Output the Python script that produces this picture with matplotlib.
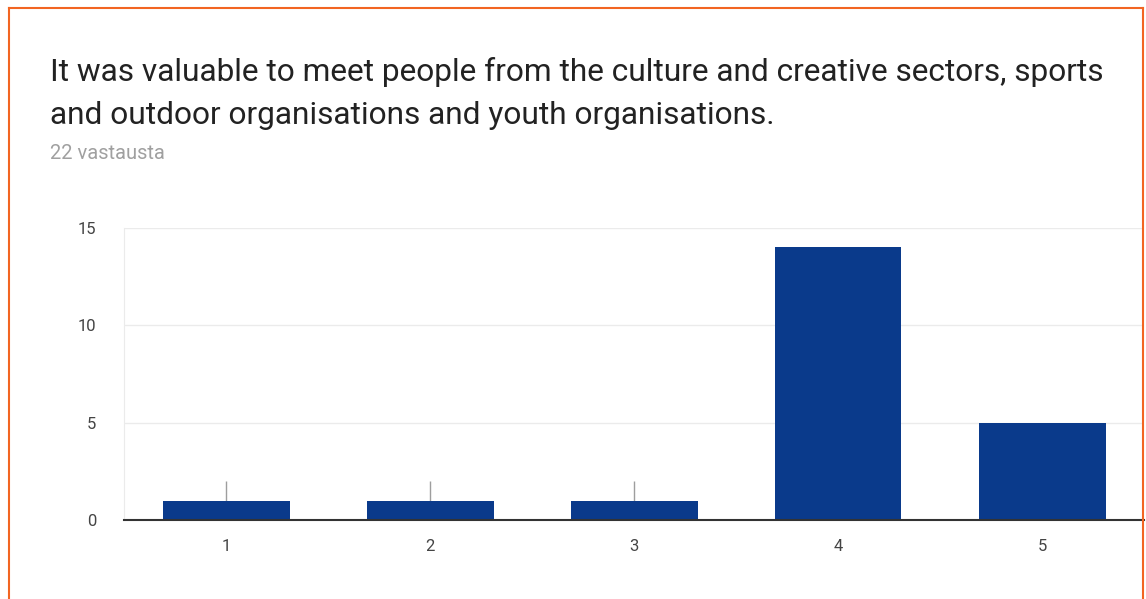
import matplotlib
matplotlib.use("Agg")
import matplotlib.pyplot as plt
from matplotlib.lines import Line2D

plt.rcParams['font.family'] = ['Roboto', 'DejaVu Sans']

categories = ['1', '2', '3', '4', '5']
counts = [1, 1, 1, 14, 5]
yticks = [0, 5, 10, 15]
title_lines = ["It was valuable to meet people from the culture and creative sectors, sports",
               "and outdoor organisations and youth organisations."]
subtitle = "22 vastausta"

W, H = 1146, 599
fig = plt.figure(figsize=(W / 100, H / 100), dpi=100)
fig.patch.set_facecolor('white')

# orange frame
orange = '#f26522'
fig.add_artist(Line2D([9 / W, 9 / W], [0, 1 - 8 / H], color=orange, lw=1.5, transform=fig.transFigure))
fig.add_artist(Line2D([9 / W, 1143 / W], [1 - 8 / H, 1 - 8 / H], color=orange, lw=1.5, transform=fig.transFigure))
fig.add_artist(Line2D([1143 / W, 1143 / W], [0, 1 - 8 / H], color=orange, lw=1.5, transform=fig.transFigure))

# title
fig.text(50 / W, 1 - 81 / H, title_lines[0], fontsize=22.75, color='#222222', ha='left', va='baseline')
fig.text(50 / W, 1 - 124 / H, title_lines[1], fontsize=22.75, color='#222222', ha='left', va='baseline')
fig.text(50 / W, 1 - 159 / H, subtitle, fontsize=14.5, color='#a0a0a0', ha='left', va='baseline')

left, right = 124 / W, 1144 / W
bottom, top = 1 - 520 / H, 1 - 228 / H
ax = fig.add_axes([left, bottom, right - left, top - bottom])
x = list(range(1, len(categories) + 1))

ax.set_xlim(0.5, len(categories) + 0.5)
ax.set_ylim(0, 15)

for y in yticks[1:]:
    ax.axhline(y, color='#ebebeb', lw=1, zorder=0)
ax.vlines(x, 0, 2, color='#9e9e9e', lw=1, zorder=1)
ax.bar(x, counts, width=127 / 204, color='#0a3a8b', zorder=2)

ax.set_xticks(x)
ax.set_xticklabels(categories)
ax.set_yticks(yticks)
ax.tick_params(axis='both', length=0, labelsize=12, colors='#444444')
ax.tick_params(axis='x', pad=14)
ax.tick_params(axis='y', pad=20)
for s in ['top', 'right']:
    ax.spines[s].set_visible(False)
ax.spines['left'].set_color('#ebebeb')
ax.spines['bottom'].set_color('#333333')
ax.spines['bottom'].set_linewidth(1.5)
ax.spines['bottom'].set_zorder(3)

fig.savefig('out.png', dpi=100, facecolor='white')
